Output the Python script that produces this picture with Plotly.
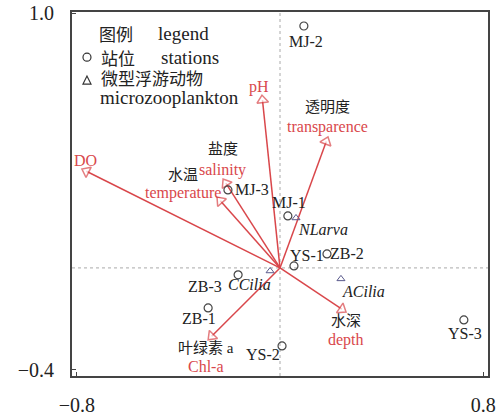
import plotly.graph_objects as go

# ---- data ----
station_names = ["MJ-2", "MJ-3", "MJ-1", "YS-1", "ZB-2", "YS-3", "ZB-3", "ZB-1", "YS-2"]
station_x = [0.094, -0.205, 0.031, 0.055, 0.185, 0.724, -0.165, -0.283, 0.008]
station_y = [0.949, 0.306, 0.204, 0.008, 0.055, -0.204, -0.027, -0.157, -0.306]

species_names = ["NLarva", "ACilia", "CCilia"]
species_x = [0.063, 0.240, -0.039]
species_y = [0.196, -0.043, -0.012]

env_cn = ["", "透明度", "", "盐度", "水温", "水深", "叶绿素 a"]
env_en = ["pH", "transparence", "DO", "salinity", "temperature", "depth", "Chl-a"]
env_x = [-0.071, 0.189, -0.780, -0.224, -0.248, 0.260, -0.283]
env_y = [0.678, 0.514, 0.388, 0.349, 0.278, -0.173, -0.282]

x_ticks = [-0.8, 0.8]
y_ticks = [-0.4, 1.0]

# ---- label offsets in pixels (dx, dy up) ----
station_off = {"MJ-2": (2, -15), "MJ-3": (24, 0), "MJ-1": (1, 13), "YS-1": (13, 10),
               "ZB-2": (20, 0), "YS-3": (1, -14), "ZB-3": (-33, -12), "ZB-1": (-9, -11),
               "YS-2": (-19, -9)}
species_off = {"NLarva": (27, -12), "ACilia": (23, -13), "CCilia": (-21, -14)}
env_cn_off = {"透明度": (-1, 30), "盐度": (0, 30), "水温": (-34, 22), "水深": (0, -9), "叶绿素 a": (-2, -8)}
env_en_off = {"pH": (-3, 8), "transparence": (-1, 10), "DO": (4, 9), "salinity": (-1, 9),
              "temperature": (-34, 4), "depth": (0, -28), "Chl-a": (-2, -27)}

SERIF = "Liberation Serif, Times New Roman, serif"
CJK = "Noto Sans CJK SC"
RED = "#d9474b"
TXT = "#222222"

fig = go.Figure()

# arrows
for i in range(len(env_en)):
    fig.add_trace(go.Scatter(
        x=[0, env_x[i]], y=[0, env_y[i]], mode="lines+markers",
        line=dict(color=RED, width=1.5),
        marker=dict(symbol="triangle-up", size=[0, 10], color="white",
                    line=dict(color=RED, width=1.5), angleref="previous", standoff=5),
        hoverinfo="skip", showlegend=False))

fig.add_trace(go.Scatter(x=station_x, y=station_y, mode="markers",
                         marker=dict(symbol="circle-open", size=8, color="#444444",
                                     line=dict(width=1.2)),
                         showlegend=False))
fig.add_trace(go.Scatter(x=species_x, y=species_y, mode="markers",
                         marker=dict(symbol="triangle-up-open", size=7, color="#5a5a8c",
                                     line=dict(width=1)),
                         showlegend=False))

ann = []
for n, x, y in zip(station_names, station_x, station_y):
    dx, dy = station_off[n]
    ann.append(dict(x=x, y=y, text=n, showarrow=False, xshift=dx, yshift=dy,
                    font=dict(family=SERIF, size=16, color=TXT)))
for n, x, y in zip(species_names, species_x, species_y):
    dx, dy = species_off[n]
    ann.append(dict(x=x, y=y, text="<i>" + n + "</i>", showarrow=False, xshift=dx, yshift=dy,
                    font=dict(family=SERIF, size=16, color=TXT)))
for cn, en, x, y in zip(env_cn, env_en, env_x, env_y):
    if cn:
        dx, dy = env_cn_off[cn]
        ann.append(dict(x=x, y=y, text=cn, showarrow=False, xshift=dx, yshift=dy,
                        font=dict(family=SERIF + ", " + CJK, size=15, color=TXT)))
    dx, dy = env_en_off[en]
    ann.append(dict(x=x, y=y, text=en, showarrow=False, xshift=dx, yshift=dy,
                    font=dict(family=SERIF, size=16, color=RED)))

# legend block (paper coords)
leg_items = [("图例", 0.060, 0.940, CJK), ("legend", 0.202, 0.940, SERIF),
             ("站位", 0.065, 0.876, CJK), ("stations", 0.209, 0.876, SERIF),
             ("微型浮游动物", 0.065, 0.821, CJK), ("microzooplankton", 0.0625, 0.764, SERIF)]
for t, px, py, fam in leg_items:
    ann.append(dict(xref="paper", yref="paper", x=px, y=py, text=t, showarrow=False,
                    xanchor="left", yanchor="middle",
                    font=dict(family=fam, size=19 if fam == SERIF else 17, color=TXT)))

shapes = [
    dict(type="line", xref="x", yref="paper", x0=0, x1=0, y0=0, y1=1,
         line=dict(color="#aaaaaa", width=1, dash="dot"), layer="below"),
    dict(type="line", xref="paper", yref="y", x0=0, x1=1, y0=0, y1=0,
         line=dict(color="#aaaaaa", width=1, dash="dot"), layer="below"),
    dict(type="circle", xref="paper", yref="paper", xsizemode="pixel", ysizemode="pixel",
         xanchor=0.036, yanchor=0.876, x0=-4, x1=4, y0=-4, y1=4,
         line=dict(color="#333333", width=1.2)),
    dict(type="path", xref="paper", yref="paper", xsizemode="pixel", ysizemode="pixel",
         xanchor=0.036, yanchor=0.813, path="M -4,-4 L 4,-4 L 0,4 Z",
         line=dict(color="#333333", width=1.2)),
]

fig.update_layout(
    width=500, height=415, margin=dict(l=72, r=12, t=12, b=39, autoexpand=False),
    plot_bgcolor="white", paper_bgcolor="white",
    annotations=ann, shapes=shapes, showlegend=False,
    font=dict(family=SERIF, color=TXT),
)
fig.update_xaxes(range=[-0.819, 0.819], tickvals=x_ticks, ticktext=["−0.8", "0.8"],
                 showgrid=False, zeroline=False, showline=True, mirror=True,
                 linecolor="#444444", linewidth=2, ticks="inside", ticklen=4,
                 tickcolor="#444444", tickfont=dict(family=SERIF, size=20, color=TXT),
                 ticklabelstandoff=10, automargin=False, ticklabeloverflow="allow")
fig.update_yaxes(range=[-0.424, 1.004], tickvals=y_ticks, ticktext=["−0.4", "1.0"],
                 showgrid=False, zeroline=False, showline=True, mirror=True,
                 linecolor="#444444", linewidth=2, ticks="inside", ticklen=4,
                 tickcolor="#444444", tickfont=dict(family=SERIF, size=20, color=TXT),
                 ticklabelstandoff=12, automargin=False, ticklabeloverflow="allow")

# remove the default 8px page margin so the figure fills the window exactly
fig.write_html("out.html", config={"displayModeBar": False},
               post_script="document.body.style.margin='0';document.body.style.overflow='hidden';")
